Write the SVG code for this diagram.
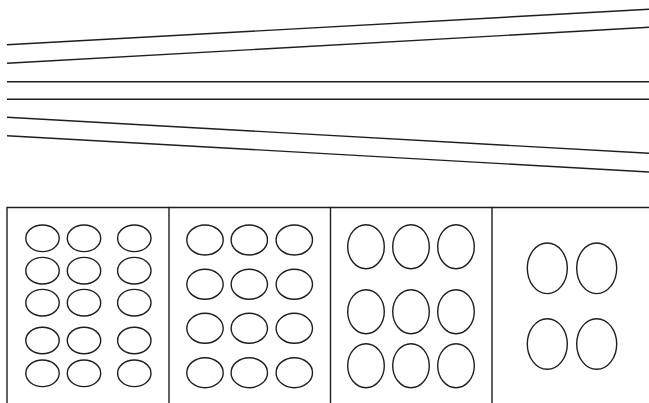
<svg xmlns="http://www.w3.org/2000/svg" width="649" height="403" viewBox="0 0 649 403">
<style>
.ln{stroke:#1e1e1e;stroke-width:1.4;fill:none}
.e{stroke:#1e1e1e;stroke-width:1.4;fill:none}
.box{stroke:#1e1e1e;stroke-width:1.4;fill:#fff}
</style>
<rect width="649" height="403" fill="#fff"/>
<g id="connectors">
<line class="ln" x1="7" y1="44.7" x2="649" y2="9.3"/>
<line class="ln" x1="7" y1="63.3" x2="649" y2="27.3"/>
<line class="ln" x1="7" y1="81.7" x2="649" y2="81.7"/>
<line class="ln" x1="7" y1="99.3" x2="649" y2="99.3"/>
<line class="ln" x1="7" y1="117.3" x2="649" y2="153.3"/>
<line class="ln" x1="7" y1="135.7" x2="649" y2="172"/>
</g>
<g id="panel1">
<path class="ln" d="M7,410 V207.5 H169"/>
<ellipse class="e" cx="42.5" cy="238.3" rx="16.7" ry="13.3"/>
<ellipse class="e" cx="84" cy="238.3" rx="16.7" ry="13.3"/>
<ellipse class="e" cx="134.3" cy="238.3" rx="16.7" ry="13.3"/>
<ellipse class="e" cx="42.5" cy="270.7" rx="16.7" ry="13.3"/>
<ellipse class="e" cx="84" cy="270.7" rx="16.7" ry="13.3"/>
<ellipse class="e" cx="134.3" cy="270.7" rx="16.7" ry="13.3"/>
<ellipse class="e" cx="42.5" cy="302.7" rx="16.7" ry="13.3"/>
<ellipse class="e" cx="84" cy="302.7" rx="16.7" ry="13.3"/>
<ellipse class="e" cx="134.3" cy="302.7" rx="16.7" ry="13.3"/>
<ellipse class="e" cx="42.5" cy="340.5" rx="16.7" ry="13.3"/>
<ellipse class="e" cx="84" cy="340.5" rx="16.7" ry="13.3"/>
<ellipse class="e" cx="134.3" cy="340.5" rx="16.7" ry="13.3"/>
<ellipse class="e" cx="42.5" cy="373.3" rx="16.7" ry="13.3"/>
<ellipse class="e" cx="84" cy="373.3" rx="16.7" ry="13.3"/>
<ellipse class="e" cx="134.3" cy="373.3" rx="16.7" ry="13.3"/>
</g>
<g id="panel2">
<path class="ln" d="M169,410 V207.5 H330.5"/>
<ellipse class="e" cx="205" cy="240" rx="18.2" ry="15"/>
<ellipse class="e" cx="249.3" cy="240" rx="18.2" ry="15"/>
<ellipse class="e" cx="294.3" cy="240" rx="18.2" ry="15"/>
<ellipse class="e" cx="205" cy="284.3" rx="18.2" ry="15"/>
<ellipse class="e" cx="249.3" cy="284.3" rx="18.2" ry="15"/>
<ellipse class="e" cx="294.3" cy="284.3" rx="18.2" ry="15"/>
<ellipse class="e" cx="205" cy="328.3" rx="18.2" ry="15"/>
<ellipse class="e" cx="249.3" cy="328.3" rx="18.2" ry="15"/>
<ellipse class="e" cx="294.3" cy="328.3" rx="18.2" ry="15"/>
<ellipse class="e" cx="205" cy="372.7" rx="18.2" ry="15"/>
<ellipse class="e" cx="249.3" cy="372.7" rx="18.2" ry="15"/>
<ellipse class="e" cx="294.3" cy="372.7" rx="18.2" ry="15"/>
</g>
<g id="panel3">
<path class="ln" d="M330.5,410 V207.5 H492"/>
<ellipse class="e" cx="366" cy="246.7" rx="18.3" ry="22"/>
<ellipse class="e" cx="411" cy="246.7" rx="18.3" ry="22"/>
<ellipse class="e" cx="456" cy="246.7" rx="18.3" ry="22"/>
<ellipse class="e" cx="366" cy="311.7" rx="18.3" ry="22"/>
<ellipse class="e" cx="411" cy="311.7" rx="18.3" ry="22"/>
<ellipse class="e" cx="456" cy="311.7" rx="18.3" ry="22"/>
<ellipse class="e" cx="366" cy="365.7" rx="18.3" ry="22"/>
<ellipse class="e" cx="411" cy="365.7" rx="18.3" ry="22"/>
<ellipse class="e" cx="456" cy="365.7" rx="18.3" ry="22"/>
</g>
<g id="panel4">
<path class="ln" d="M492,410 V207.5 H649"/>
<ellipse class="e" cx="547.3" cy="268.3" rx="20" ry="25.3"/>
<ellipse class="e" cx="596.7" cy="268.3" rx="20" ry="25.3"/>
<ellipse class="e" cx="547.3" cy="344" rx="20" ry="25.3"/>
<ellipse class="e" cx="596.7" cy="344" rx="20" ry="25.3"/>
</g>
</svg>
